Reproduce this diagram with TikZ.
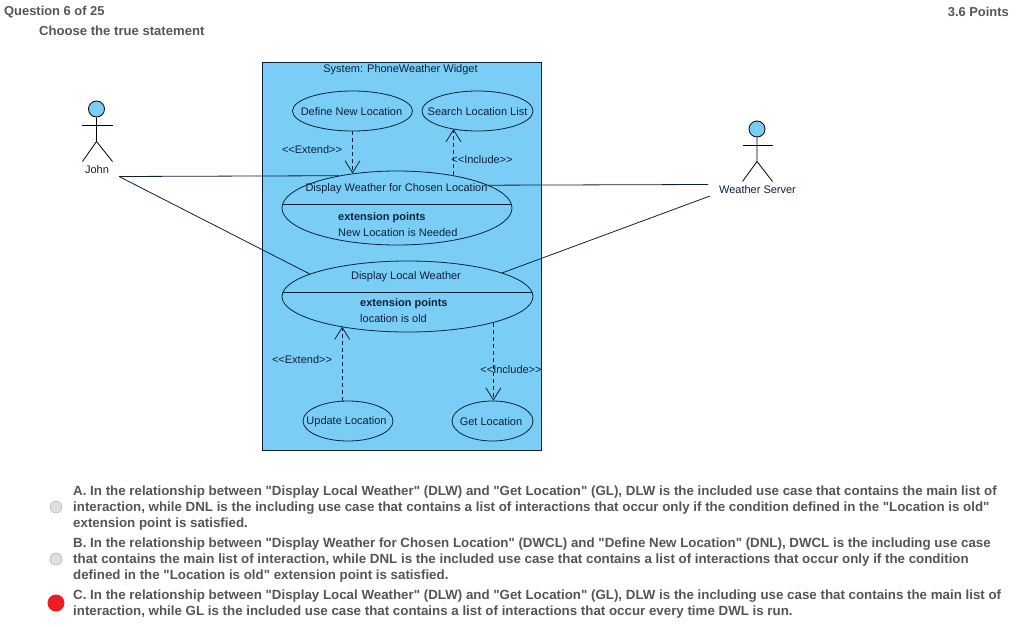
\documentclass[tikz,border=0pt]{standalone}
\usepackage{fontspec}
\setmainfont{Liberation Sans}[Ligatures=TeXOff]
\usetikzlibrary{shapes.geometric,arrows.meta}
\definecolor{boxblue}{RGB}{122,206,245}
\definecolor{umlline}{RGB}{12,32,60}
\definecolor{pagegray}{RGB}{85,85,85}
\definecolor{radiored}{RGB}{237,28,36}
\tikzset{
  usecase/.style={draw=umlline, ellipse, inner sep=0pt, line width=0.8pt},
  umltext/.style={text=umlline, font=\fontsize{11}{13}\selectfont, inner sep=0pt, yshift=-0.6pt},
  umlbold/.style={umltext, anchor=west, font=\fontsize{11}{13}\bfseries\selectfont},
  pagetext/.style={text=pagegray, font=\fontsize{13.32}{15}\bfseries\selectfont, inner sep=0pt, anchor=west, yshift=-1.2pt},
  pagehead/.style={pagetext, yshift=0.6pt, font=\fontsize{12.9}{15}\bfseries\selectfont},
  assoc/.style={draw=umlline, line width=0.8pt},
  depend/.style={draw=umlline, line width=0.8pt, dash pattern=on 4pt off 3pt, -{Straight Barb[length=12pt,width=15pt]}},
  stick/.style={draw=black, line width=0.8pt},
  actorhead/.style={circle, draw=black, fill=boxblue, line width=0.8pt, inner sep=0pt, minimum size=16pt},
  radio/.style={circle, draw=black!35, fill=black!12, minimum size=12pt, inner sep=0pt}
}
\begin{document}
\begin{tikzpicture}[x=1pt, y=-1pt]
  \useasboundingbox (0, 0) rectangle (1021, 627);
  % page header
  \node [pagehead] (question) at (4, 11) {Question 6 of 25};
  \node [pagehead, anchor=east] (points) at (1009, 11) {3.6 Points};
  \node [pagehead, font=\fontsize{13.1}{15}\bfseries\selectfont] (choose) at (39, 30) {Choose the true statement};
  % system box
  \node [draw=umlline, fill=boxblue, line width=0.8pt, inner sep=0pt, minimum width=278.5pt, minimum height=388pt] (system) at (401.75, 256) {};
  \node [umltext] (systemname) at (400.5, 69) {System: PhoneWeather Widget};
  % use cases
  \node [usecase, minimum width=120pt, minimum height=40pt] (define) at (352.5, 111) {};
  \node [umltext] (definename) at (351.5, 111) {Define New Location};
  \node [usecase, minimum width=111pt, minimum height=40pt] (search) at (477.5, 111) {};
  \node [umltext] (searchname) at (search) {Search Location List};
  \node [usecase, minimum width=230pt, minimum height=74pt] (chosen) at (397, 208) {};
  \node [umltext] (chosenname) at (396.5, 188) {Display Weather for Chosen Location};
  \draw [assoc] (chosen.178) -- (chosen.2);
  \node [umlbold] (chosenext) at (338, 217) {extension points};
  \node [umltext, anchor=west] (chosenpoint) at (338, 232) {New Location is Needed};
  \node [usecase, minimum width=251pt, minimum height=71pt] (local) at (407.5, 296.5) {};
  \node [umltext] (localname) at (406, 276) {Display Local Weather};
  \draw [assoc] (local.178) -- (local.2);
  \node [umlbold] (localext) at (360, 303) {extension points};
  \node [umltext, anchor=west] (localpoint) at (360, 318) {location is old};
  \node [usecase, minimum width=90pt, minimum height=40pt] (update) at (348, 421) {};
  \node [umltext] (updatename) at (346.5, 421) {Update Location};
  \node [usecase, minimum width=81pt, minimum height=40pt] (get) at (492.5, 421) {};
  \node [umltext] (getname) at (491, 421) {Get Location};
  % dependencies
  \draw [depend] (define.south) -- (define.south |- chosen.142.5);
  \draw [depend] (chosen.30.4) -- (chosen.30.4 |- search.215.2);
  \draw [depend] (update.106.9) -- (update.106.9 |- local.204.9);
  \draw [depend] (local.-17.2) -- (local.-17.2 |- get.north);
  \node [umltext] (extendone) at (312, 149) {<<Extend>>};
  \node [umltext] (includeone) at (482, 159) {<<Include>>};
  \node [umltext] (extendtwo) at (302, 359) {<<Extend>>};
  \node [umltext] (includetwo) at (511, 369) {<<Include>>};
  % actors
  \node [actorhead] (johnhead) at (96.5, 109) {};
  \draw [stick] (johnhead.south) -- (96.5, 141.5) -- (82.5, 161.5);
  \draw [stick] (96.5, 141.5) -- (112.5, 161.5);
  \draw [stick] (82, 125) -- (112.5, 125);
  \node [umltext] (john) at (97, 169) {John};
  \node [actorhead] (serverhead) at (757, 129) {};
  \draw [stick] (serverhead.south) -- (757, 161.5) -- (742.5, 181.5);
  \draw [stick] (757, 161.5) -- (772.5, 181.5);
  \draw [stick] (742.5, 145) -- (773, 145);
  \node [umltext] (server) at (757.5, 189) {Weather Server};
  % associations
  \coordinate (johnport) at (119, 176.5);
  \coordinate (serverone) at (708, 184.5);
  \coordinate (servertwo) at (710, 196);
  \draw [assoc] (johnport) -- (chosen.151.7);
  \draw [assoc] (johnport) -- (local.167.3);
  \draw [assoc] (serverone) -- (chosen.14.7);
  \draw [assoc] (servertwo) -- (local.14.4);
  % answers
  \node [radio] (radioa) at (56, 507) {};
  \node [radio] (radiob) at (56, 559) {};
  \node [circle, fill=radiored, minimum size=17pt, inner sep=0pt] (radioc) at (56, 603) {};
  \node [pagetext] (aone) at (73, 491) {A. In the relationship between "Display Local Weather" (DLW) and "Get Location" (GL), DLW is the included use case that contains the main list of};
  \node [pagetext] (atwo) at (73, 507) {interaction, while DNL is the including use case that contains a list of interactions that occur only if the condition defined in the "Location is old"};
  \node [pagetext] (athree) at (73, 523) {extension point is satisfied.};
  \node [pagetext] (bone) at (73, 543) {B. In the relationship between "Display Weather for Chosen Location" (DWCL) and "Define New Location" (DNL), DWCL is the including use case};
  \node [pagetext] (btwo) at (73, 559) {that contains the main list of interaction, while DNL is the included use case that contains a list of interactions that occur only if the condition};
  \node [pagetext] (bthree) at (73, 575) {defined in the "Location is old" extension point is satisfied.};
  \node [pagetext] (cone) at (73, 595) {C. In the relationship between "Display Local Weather" (DLW) and "Get Location" (GL), DLW is the including use case that contains the main list of};
  \node [pagetext] (ctwo) at (73, 611) {interaction, while GL is the included use case that contains a list of interactions that occur every time DWL is run.};
\end{tikzpicture}
\end{document}
